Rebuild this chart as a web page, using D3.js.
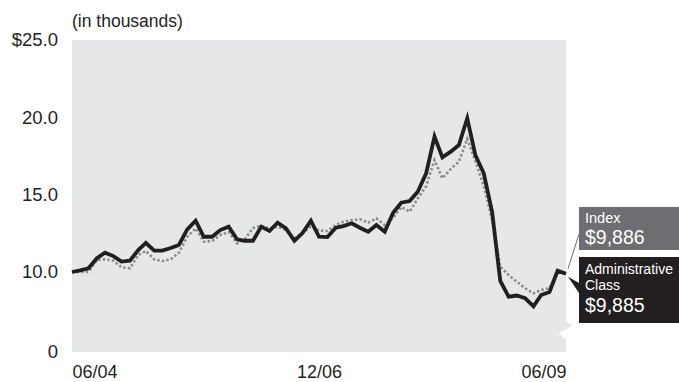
<!DOCTYPE html>
<html>
<head>
<meta charset="utf-8">
<script src="https://cdn.jsdelivr.net/npm/d3@7"></script>
<style>
  html, body { margin: 0; padding: 0; background: #ffffff; }
  svg { display: block; font-family: "Liberation Sans", Arial, Helvetica, sans-serif; }
</style>
</head>
<body>
<svg id="chart" width="679" height="382"></svg>
<script>
// Month-end observations, June 2004 through June 2009
const months = [
  "06/04","07/04","08/04","09/04","10/04","11/04","12/04",
  "01/05","02/05","03/05","04/05","05/05","06/05","07/05","08/05","09/05","10/05","11/05","12/05",
  "01/06","02/06","03/06","04/06","05/06","06/06","07/06","08/06","09/06","10/06","11/06","12/06",
  "01/07","02/07","03/07","04/07","05/07","06/07","07/07","08/07","09/07","10/07","11/07","12/07",
  "01/08","02/08","03/08","04/08","05/08","06/08","07/08","08/08","09/08","10/08","11/08","12/08",
  "01/09","02/09","03/09","04/09","05/09","06/09"
];

// Growth of $10,000, in thousands of dollars
const adminClass = [
  10.00, 10.10, 10.24, 10.89, 11.25, 11.03, 10.67, 10.73, 11.42, 11.89,
  11.38, 11.38, 11.55, 11.75, 12.76, 13.32, 12.28, 12.28, 12.71, 12.93,
  12.11, 12.02, 12.02, 12.93, 12.65, 13.19, 12.82, 12.02, 12.52, 13.32,
  12.28, 12.26, 12.86, 12.97, 13.15, 12.86, 12.60, 13.04, 12.60, 13.83,
  14.48, 14.59, 15.19, 16.38, 18.75, 17.41, 17.78, 18.21, 19.94, 17.56,
  16.38, 13.88, 9.42, 8.40, 8.48, 8.30, 7.78, 8.51, 8.71, 10.08,
  9.885
];
const indexSeries = [
  10.00, 10.00, 10.02, 10.78, 10.82, 10.73, 10.30, 10.24, 11.10, 11.36,
  10.82, 10.71, 10.82, 11.25, 12.28, 12.82, 11.96, 12.00, 12.39, 12.59,
  11.86, 12.11, 12.84, 13.00, 12.81, 12.93, 12.70, 12.20, 12.50, 12.97,
  12.68, 12.65, 13.04, 13.25, 13.36, 13.41, 13.19, 13.47, 13.04, 13.50,
  14.20, 13.90, 14.75, 15.55, 17.24, 16.06, 16.66, 17.13, 18.61, 17.17,
  15.56, 13.36, 10.34, 9.81, 9.37, 8.95, 8.62, 8.84, 8.95, 10.00,
  9.886
];

const yTicks = [10, 15, 20, 25];
const xTicks = ["06/04", "12/06", "06/09"];
const endLabels = { index: "$9,886", admin: "$9,885" };

const parseMonth = d3.timeParse("%m/%y");
const dates = months.map(parseMonth);

const svg = d3.select("#chart");
const plot = { left: 72, right: 566, top: 40, bottom: 352 };

const x = d3.scaleTime()
  .domain(d3.extent(dates))
  .range([plot.left, plot.right]);

// Value axis is broken below 10.0; the zero sits at the bottom of the panel
const y = d3.scaleLinear()
  .domain([10, 25])
  .range([272, plot.top]);

// Panel with the axis-break notch on its right edge
svg.append("path")
  .attr("d", `M${plot.left},${plot.top} H${plot.right} V321.5 L572.5,325.5 L558.5,333.5 L${plot.right},339 V${plot.bottom} H${plot.left} Z`)
  .attr("fill", "#e6e7e8");

// Y axis labels
const yAxis = d3.axisLeft(y)
  .tickValues(yTicks)
  .tickSize(0)
  .tickPadding(14)
  .tickFormat(d => (d === 25 ? "$" : "") + d3.format(".1f")(d));
const yg = svg.append("g").attr("transform", `translate(${plot.left},0)`).call(yAxis);
yg.select(".domain").remove();
yg.selectAll("text").attr("font-size", 18.5).attr("fill", "#231f20")
  .attr("font-family", "'Liberation Sans', Arial, sans-serif");

svg.append("text")
  .attr("x", plot.left - 14).attr("y", plot.bottom).attr("dy", "0.32em")
  .attr("text-anchor", "end").attr("font-size", 18.5).attr("fill", "#231f20")
  .text("0");

// X axis labels
const xAxis = d3.axisBottom(x)
  .tickValues(xTicks.map(parseMonth))
  .tickSize(0)
  .tickPadding(0)
  .tickFormat(d3.timeFormat("%m/%y"));
const xg = svg.append("g").attr("transform", `translate(0,${plot.bottom})`).call(xAxis);
xg.select(".domain").remove();
xg.selectAll("text")
  .attr("font-size", 18).attr("fill", "#231f20")
  .attr("font-family", "'Liberation Sans', Arial, sans-serif")
  .attr("y", 26).attr("dy", 0)
  .attr("text-anchor", (d, i) => i === 0 ? "start" : (i === xTicks.length - 1 ? "end" : "middle"));

// Units note
svg.append("text")
  .attr("x", plot.left).attr("y", 27)
  .attr("font-size", 17.5).attr("fill", "#231f20")
  .text("(in thousands)");

// Lines
const line = d3.line()
  .x((d, i) => x(dates[i]))
  .y(d => y(d));

svg.append("path")
  .datum(indexSeries)
  .attr("d", line)
  .attr("fill", "none")
  .attr("stroke", "#8a8c8e")
  .attr("stroke-width", 2.6)
  .attr("stroke-dasharray", "2.4 2.2");

svg.append("path")
  .datum(adminClass)
  .attr("d", line)
  .attr("fill", "none")
  .attr("stroke", "#231f20")
  .attr("stroke-width", 3.8)
  .attr("stroke-linejoin", "miter");

// End-value callouts
const lastX = x(dates[dates.length - 1]);
const boxX = 579;

svg.append("line")
  .attr("x1", lastX + 2).attr("y1", y(indexSeries[indexSeries.length - 1]) - 5)
  .attr("x2", boxX).attr("y2", 234)
  .attr("stroke", "#6d6e71").attr("stroke-width", 1);

svg.append("rect")
  .attr("x", boxX).attr("y", 207).attr("width", 679 - boxX).attr("height", 43)
  .attr("fill", "#6d6e71");

svg.append("path")
  .attr("d", `M${lastX + 2},${y(adminClass[adminClass.length - 1]) + 3} L${boxX},283 L${boxX},293 Z`)
  .attr("fill", "#231f20");

svg.append("rect")
  .attr("x", boxX).attr("y", 257).attr("width", 679 - boxX).attr("height", 66)
  .attr("fill", "#231f20");

const tx = boxX + 6;
svg.append("text").attr("x", tx).attr("y", 223).attr("font-size", 14.5).attr("fill", "#ffffff").text("Index");
svg.append("text").attr("x", tx).attr("y", 243.5).attr("font-size", 19.5).attr("fill", "#ffffff").text(endLabels.index);
svg.append("text").attr("x", tx).attr("y", 273.5).attr("font-size", 14).attr("fill", "#ffffff").text("Administrative");
svg.append("text").attr("x", tx).attr("y", 289.5).attr("font-size", 14).attr("fill", "#ffffff").text("Class");
svg.append("text").attr("x", tx).attr("y", 312).attr("font-size", 19.5).attr("fill", "#ffffff").text(endLabels.admin);
</script>
</body>
</html>
